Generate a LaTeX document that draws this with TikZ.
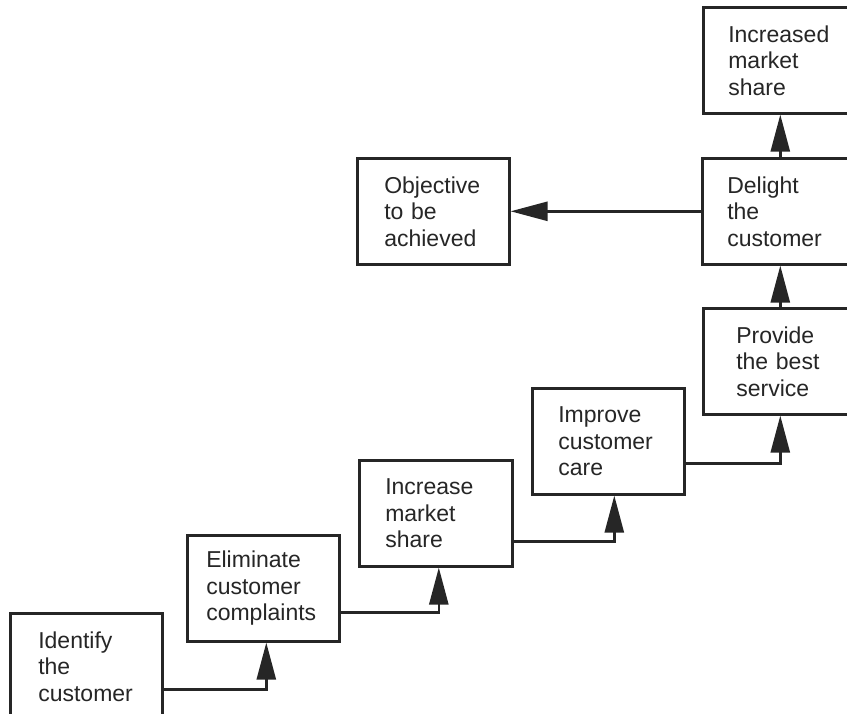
\documentclass[tikz,border=0pt]{standalone}
\usepackage{fontspec}
\setmainfont{Liberation Sans}
\usetikzlibrary{arrows.meta}
\definecolor{ink}{HTML}{262626}
\begin{document}
\begin{tikzpicture}[x=1pt, y=-1pt,
  stepbox/.style={draw=ink, line width=2.6pt, rectangle, anchor=north west,
    minimum height=106pt, inner ysep=2pt, align=left, text=ink,
    font=\fontsize{23}{26.5}\selectfont},
  conn/.style={draw=ink, line width=2.6pt,
    -{Triangle[length=37pt, width=19pt]}}]
  % page area
  \fill[white] (0,0) rectangle (847,714);
  \useasboundingbox (0,0) rectangle (847,714);
  \clip (0,0) rectangle (847,714);

  % the staircase of steps
  \node[stepbox, inner xsep=28pt, text width=96pt]  (b1) at (9,612)   {Identify\\the\\customer};
  \node[stepbox, inner xsep=19pt, text width=114pt] (b2) at (186,534) {Eliminate\\customer\\complaints};
  \node[stepbox, inner xsep=26pt, text width=101pt] (b3) at (358,459) {Increase\\market\\share};
  \node[stepbox, inner xsep=26pt, text width=100pt] (b4) at (531,387) {Improve\\customer\\care};
  \node[stepbox, inner xsep=33pt, text width=86pt]  (b5) at (702,307) {Provide\\the best\\service};
  \node[stepbox, inner xsep=25pt, text width=102pt] (b6) at (701,157) {Delight\\the\\customer};
  \node[stepbox, inner xsep=25pt, text width=102pt] (b7) at (702,6)   {Increased\\market\\share};
  \node[stepbox, inner xsep=27pt, text width=98pt]  (b8) at (356,157) {Objective\\to be\\achieved};

  % connectors between steps
  \draw[conn] ([yshift=-23pt]b1.east) -| ([xshift=3pt]b2.south);
  \draw[conn] ([yshift=-24pt]b2.east) -| ([xshift=3pt]b3.south);
  \draw[conn] ([yshift=-28pt]b3.east) -| ([xshift=6pt]b4.south);
  \draw[conn] ([yshift=-22pt]b4.east) -| ([xshift=1pt]b5.south);
  \draw[conn] ([xshift=1pt]b5.north) -- ([xshift=1pt]b5.north |- b6.south);
  \draw[conn] ([xshift=2pt]b6.north) -- ([xshift=2pt]b6.north |- b7.south);
  \draw[conn] (b6.west) -- (b8.east);
\end{tikzpicture}
\end{document}
